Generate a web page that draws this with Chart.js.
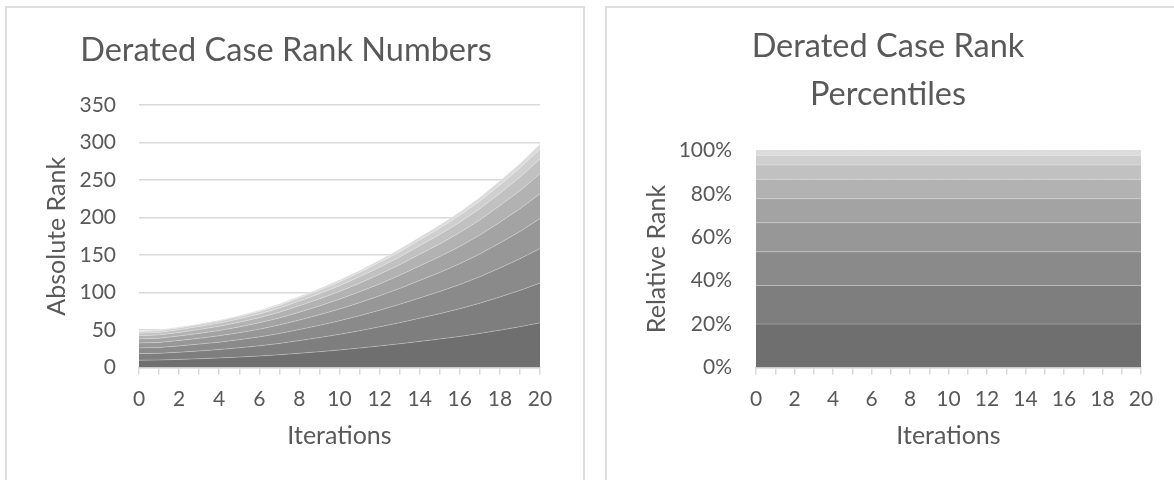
<!DOCTYPE html>
<html>
<head>
<meta charset="utf-8">
<script src="https://cdn.jsdelivr.net/npm/chart.js@4.4.1/dist/chart.umd.min.js"></script>
<style>
  html, body { margin: 0; padding: 0; background: #fff; }
  body { position: relative; width: 1174px; height: 480px; overflow: hidden; }
  .frame { position: absolute; border: 2px solid #dedede; box-sizing: border-box; }
  #frameLeft { left: 5px; top: 6px; width: 580px; height: 520px; }
  #frameRight { left: 605px; top: 6px; width: 580px; height: 520px; }
  canvas { position: absolute; top: 0; }
  #rankChart { left: 0; }
  #pctChart { left: 590px; }
</style>
</head>
<body>
<div class="frame" id="frameLeft"></div>
<div class="frame" id="frameRight"></div>
<canvas id="rankChart" width="590" height="480"></canvas>
<canvas id="pctChart" width="584" height="480"></canvas>
<script>
// Iterations on the x axis
const iterations = [0, 1, 2, 3, 4, 5, 6, 7, 8, 9, 10, 11, 12, 13, 14, 15, 16, 17, 18, 19, 20];

// Absolute rank of each derated-case band, bottom band first
const rankBand1 = [9.8, 10, 10.8, 11.7, 12.7, 13.9, 15.3, 17, 19, 21.1, 23.4, 25.9, 28.7, 31.6, 34.8, 38, 41.5, 45.4, 49.8, 54.4, 59.6];
const rankBand2 = [8.7, 8.9, 9.6, 10.4, 11.3, 12.4, 13.6, 15.1, 16.9, 18.8, 20.8, 23.1, 25.5, 28.1, 31, 33.8, 36.9, 40.4, 44.3, 48.4, 53];
const rankBand3 = [7.6, 7.8, 8.4, 9.1, 9.8, 10.8, 11.9, 13.2, 14.7, 16.4, 18.1, 20.1, 22.2, 24.5, 27, 29.5, 32.2, 35.2, 38.6, 42.2, 46.2];
const rankBand4 = [6.6, 6.7, 7.2, 7.8, 8.5, 9.3, 10.3, 11.4, 12.7, 14.1, 15.7, 17.4, 19.2, 21.2, 23.3, 25.5, 27.8, 30.4, 33.4, 36.4, 39.9];
const rankBand5 = [5.4, 5.6, 6, 6.5, 7, 7.7, 8.5, 9.4, 10.5, 11.7, 13, 14.4, 15.9, 17.5, 19.3, 21.1, 23, 25.2, 27.6, 30.2, 33.1];
const rankBand6 = [4.4, 4.5, 4.8, 5.2, 5.7, 6.2, 6.8, 7.6, 8.5, 9.4, 10.4, 11.5, 12.8, 14.1, 15.5, 16.9, 18.5, 20.2, 22.2, 24.2, 26.5];
const rankBand7 = [3.2, 3.3, 3.6, 3.9, 4.2, 4.6, 5, 5.6, 6.3, 7, 7.7, 8.5, 9.5, 10.4, 11.5, 12.5, 13.7, 15, 16.4, 18, 19.7];
const rankBand8 = [2.2, 2.3, 2.4, 2.6, 2.9, 3.1, 3.4, 3.8, 4.3, 4.7, 5.3, 5.8, 6.5, 7.1, 7.8, 8.6, 9.3, 10.2, 11.2, 12.2, 13.4];
const rankBand9 = [1.1, 1.1, 1.2, 1.3, 1.4, 1.5, 1.7, 1.9, 2.1, 2.3, 2.6, 2.8, 3.2, 3.5, 3.8, 4.2, 4.6, 5, 5.5, 6, 6.6];

// Relative rank (percent of total) of the same bands
const pctBand1 = [20, 20, 20, 20, 20, 20, 20, 20, 20, 20, 20, 20, 20, 20, 20, 20, 20, 20, 20, 20, 20];
const pctBand2 = [17.8, 17.8, 17.8, 17.8, 17.8, 17.8, 17.8, 17.8, 17.8, 17.8, 17.8, 17.8, 17.8, 17.8, 17.8, 17.8, 17.8, 17.8, 17.8, 17.8, 17.8];
const pctBand3 = [15.5, 15.5, 15.5, 15.5, 15.5, 15.5, 15.5, 15.5, 15.5, 15.5, 15.5, 15.5, 15.5, 15.5, 15.5, 15.5, 15.5, 15.5, 15.5, 15.5, 15.5];
const pctBand4 = [13.4, 13.4, 13.4, 13.4, 13.4, 13.4, 13.4, 13.4, 13.4, 13.4, 13.4, 13.4, 13.4, 13.4, 13.4, 13.4, 13.4, 13.4, 13.4, 13.4, 13.4];
const pctBand5 = [11.1, 11.1, 11.1, 11.1, 11.1, 11.1, 11.1, 11.1, 11.1, 11.1, 11.1, 11.1, 11.1, 11.1, 11.1, 11.1, 11.1, 11.1, 11.1, 11.1, 11.1];
const pctBand6 = [8.9, 8.9, 8.9, 8.9, 8.9, 8.9, 8.9, 8.9, 8.9, 8.9, 8.9, 8.9, 8.9, 8.9, 8.9, 8.9, 8.9, 8.9, 8.9, 8.9, 8.9];
const pctBand7 = [6.6, 6.6, 6.6, 6.6, 6.6, 6.6, 6.6, 6.6, 6.6, 6.6, 6.6, 6.6, 6.6, 6.6, 6.6, 6.6, 6.6, 6.6, 6.6, 6.6, 6.6];
const pctBand8 = [4.5, 4.5, 4.5, 4.5, 4.5, 4.5, 4.5, 4.5, 4.5, 4.5, 4.5, 4.5, 4.5, 4.5, 4.5, 4.5, 4.5, 4.5, 4.5, 4.5, 4.5];
const pctBand9 = [2.2, 2.2, 2.2, 2.2, 2.2, 2.2, 2.2, 2.2, 2.2, 2.2, 2.2, 2.2, 2.2, 2.2, 2.2, 2.2, 2.2, 2.2, 2.2, 2.2, 2.2];

// Y axis tick values
const rankTicks = [0, 50, 100, 150, 200, 250, 300, 350];
const pctTicks = [0, 20, 40, 60, 80, 100];

// Text
const rankTitle = ['Derated Case Rank Numbers'];
const pctTitle = ['Derated Case Rank', 'Percentiles'];
const rankAxisTitle = 'Absolute Rank';
const pctAxisTitle = 'Relative Rank';
const xAxisTitle = 'Iterations';

// Grey shades, darkest band at the bottom
const bandGreys = ['#6f6f6f', '#7e7e7e', '#8a8a8a', '#979797', '#a3a3a3', '#b2b2b2', '#c1c1c1', '#cfcfcf', '#dbdbdb'];

const FONT = 'Lato, sans-serif';
const TEXT = '#595959';
const GRID = '#d9d9d9';
const TICK_SIZE = 21;
const AXIS_TITLE_SIZE = 25;

// Draws the (possibly multi-line) chart heading at a fixed spot
const panelTitle = {
  id: 'panelTitle',
  afterDraw(chart, args, opts) {
    const ctx = chart.ctx;
    ctx.save();
    ctx.font = opts.size + 'px ' + FONT;
    ctx.fillStyle = TEXT;
    ctx.textAlign = 'center';
    ctx.textBaseline = 'alphabetic';
    opts.lines.forEach((line, i) => ctx.fillText(line, opts.x, opts.y + i * opts.gap));
    ctx.restore();
  }
};

function bandSets(series) {
  return series.map((data, i) => ({
    data,
    fill: i === 0 ? 'origin' : '-1',
    backgroundColor: bandGreys[i],
    borderColor: 'rgba(255,255,255,0.28)',
    borderWidth: 1,
    pointRadius: 0,
    tension: 0
  }));
}

function makeOptions(cfg) {
  return {
    responsive: false,
    animation: false,
    events: [],
    layout: { padding: cfg.padding },
    plugins: {
      legend: { display: false },
      tooltip: { enabled: false },
      panelTitle: cfg.title
    },
    scales: {
      x: {
        type: 'linear',
        min: 0,
        max: 20,
        afterFit: s => { s.height = 112.5; },
        afterBuildTicks: s => { s.ticks = iterations.map(v => ({ value: v })); },
        ticks: {
          autoSkip: false,
          maxRotation: 0,
          padding: 12,
          color: TEXT,
          font: { family: FONT, size: TICK_SIZE },
          callback: v => (v % 2 === 0 ? String(v) : '')
        },
        grid: { drawOnChartArea: false, drawTicks: true, tickLength: 7, color: GRID, lineWidth: 1.5 },
        border: { display: true, color: GRID, width: 1.5 },
        title: {
          display: true,
          text: xAxisTitle,
          color: TEXT,
          font: { family: FONT, size: AXIS_TITLE_SIZE },
          padding: { top: 0, bottom: 29 }
        }
      },
      y: {
        stacked: true,
        min: cfg.yMin,
        max: cfg.yMax,
        afterFit: s => { s.width = cfg.yWidth; },
        afterBuildTicks: s => { s.ticks = cfg.yTicks.map(v => ({ value: v })); },
        ticks: {
          padding: cfg.yTickPad,
          color: TEXT,
          font: { family: FONT, size: TICK_SIZE },
          callback: cfg.yFormat
        },
        grid: { drawTicks: false, color: GRID, lineWidth: 1.5 },
        border: { display: false },
        title: {
          display: true,
          text: cfg.yTitle,
          color: TEXT,
          font: { family: FONT, size: AXIS_TITLE_SIZE },
          padding: { top: cfg.yTitlePad, bottom: 0 }
        }
      }
    }
  };
}

new Chart(document.getElementById('rankChart'), {
  type: 'line',
  data: {
    labels: iterations,
    datasets: bandSets([rankBand1, rankBand2, rankBand3, rankBand4, rankBand5, rankBand6, rankBand7, rankBand8, rankBand9])
  },
  options: makeOptions({
    padding: { left: 20, right: 50, top: 105, bottom: 0 },
    yMin: 0, yMax: 350, yTicks: rankTicks, yWidth: 119, yTitlePad: 22, yTickPad: 23,
    yTitle: rankAxisTitle,
    yFormat: v => String(v),
    title: { lines: rankTitle, x: 286, y: 61, size: 32.5, gap: 0 }
  }),
  plugins: [panelTitle]
});

new Chart(document.getElementById('pctChart'), {
  type: 'line',
  data: {
    labels: iterations,
    datasets: bandSets([pctBand1, pctBand2, pctBand3, pctBand4, pctBand5, pctBand6, pctBand7, pctBand8, pctBand9])
  },
  options: makeOptions({
    padding: { left: 20, right: 33, top: 150.5, bottom: 0 },
    yMin: 0, yMax: 100, yTicks: pctTicks, yWidth: 146, yTitlePad: 32, yTickPad: 24,
    yTitle: pctAxisTitle,
    yFormat: v => v + '%',
    title: { lines: pctTitle, x: 298, y: 57, size: 32.5, gap: 48 }
  }),
  plugins: [panelTitle]
});
</script>
</body>
</html>
